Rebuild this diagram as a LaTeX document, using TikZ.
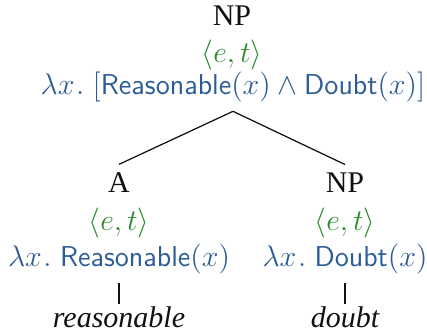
\documentclass[tikz,border=0pt]{standalone}
\usepackage{fontspec}
\setmainfont{Liberation Serif}
\usepackage{amsmath}
\usepackage{xcolor}
\usepackage{tikz}
\usetikzlibrary{positioning}
\definecolor{ink}{HTML}{111111}
\definecolor{typegreen}{HTML}{2A8A2A}
\definecolor{semblue}{HTML}{2B5C95}
\newcommand{\et}{$\langle e,t\rangle$}
\newcommand{\pred}[1]{\textsf{#1}(x)}
\newcommand{\lam}{\lambda x\mkern1mu.\mkern5mu}

\begin{document}
\begin{tikzpicture}[x=0.4pt,y=-0.4pt,font=\fontsize{11.5}{14}\selectfont,
  cat/.style={anchor=base,text=ink,font=\fontsize{12}{14}\selectfont},
  typ/.style={anchor=base,text=typegreen},
  sem/.style={anchor=base,text=semblue},
  word/.style={anchor=base,text=ink,inner ysep=1pt,font=\fontsize{12}{14}\selectfont\itshape}]
\useasboundingbox (0,0) rectangle (427,332);
% root
\node[cat] (rootcat) at (232,26) {NP};
\node[typ] (roottype) at (232,63) {\et};
\node[sem] (rootsem) at (233,95) {$\lam[\pred{Reasonable}\wedge\pred{Doubt}]$};
% left daughter
\node[cat] (acat) at (119,193) {A};
\node[typ] (atype) at (119,231) {\et};
\node[sem] (asem) at (119,267) {$\lam\pred{Reasonable}$};
\node[word] (aword) at (119,328) {reasonable};
% right daughter
\node[cat] (npcat) at (345,193) {NP};
\node[typ] (nptype) at (345,231) {\et};
\node[sem] (npsem) at (345,267) {$\lam\pred{Doubt}$};
\node[word] (npword) at (345,328) {doubt};
% branches
\draw[ink,line width=0.5pt] (rootsem.south) -- (acat.north);
\draw[ink,line width=0.5pt] (rootsem.south) -- (npcat.north);
\draw[ink,line width=0.5pt] (asem.south) -- (aword.north);
\draw[ink,line width=0.5pt] (npsem.south) -- (npword.north);
\end{tikzpicture}
\end{document}
